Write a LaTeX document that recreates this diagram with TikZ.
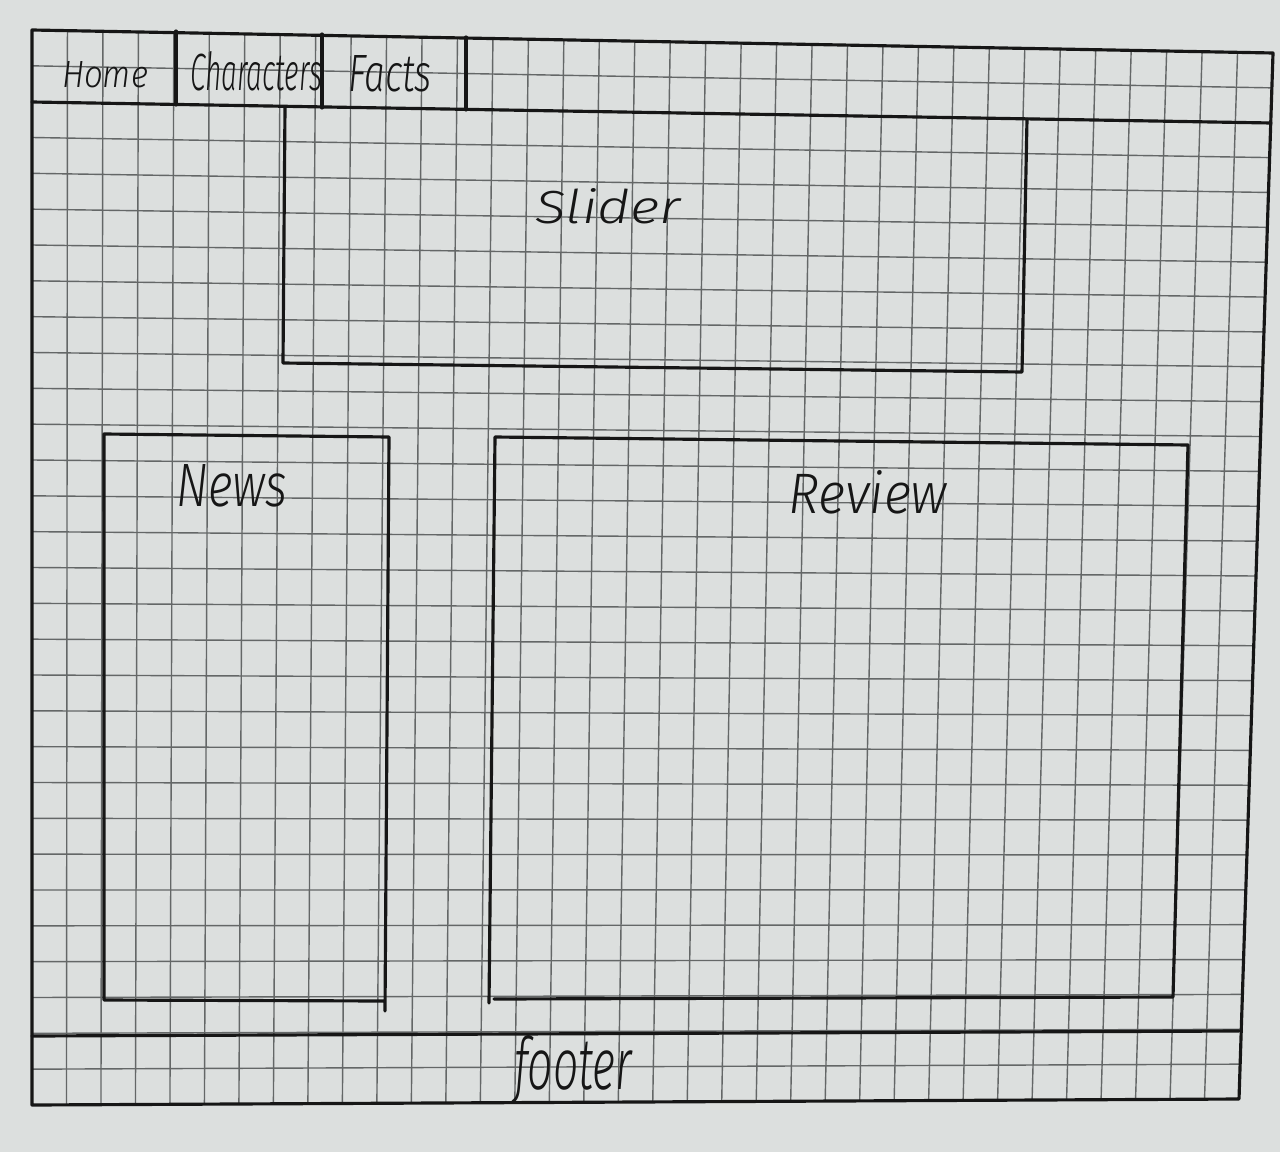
\documentclass[tikz,border=0pt]{standalone}
\usepackage{fontspec}
\setmainfont{Fira Sans}[UprightFont=* Light, ItalicFont=* Light Italic]
\usepackage{graphicx}
\definecolor{paper}{RGB}{220,223,222}
\definecolor{gridc}{RGB}{100,103,103}
\definecolor{inkc}{RGB}{22,22,22}
\newcommand\hw[3]{\resizebox{#1}{#2}{\itshape #3}}
\tikzset{
  ink/.style={draw=inkc, line width=1.8pt, line cap=round, line join=round},
  gridline/.style={draw=gridc, line width=0.8pt},
  lbl/.style={inner sep=0pt, text=inkc}
}
\begin{document}
\begin{tikzpicture}[x=0.02cm, y=-0.02cm]
  % page
  \fill[paper] (0,0) rectangle (1280,1152);
  \useasboundingbox (0,0) rectangle (1280,1152);

  % squared paper, 35 x 30 cells, slightly in perspective
  \foreach \i in {1,...,34} {
    \draw[gridline] ({32+\i*35.457},{30+\i*0.657}) -- ({32+\i*34.486},{1105-\i*0.1714});
  }
  \foreach \j in {1,...,29} {
    \draw[gridline] (32,{30+\j*35.833}) -- ({1273-\j*1.1333},{53+\j*34.867});
  }

  % outer frame
  \coordinate (fTL) at (32,30);
  \coordinate (fTR) at (1273,53);
  \coordinate (fBR) at (1239,1099);
  \coordinate (fBL) at (32,1105);
  \draw[ink] (fTL) -- (fTR) -- (fBR) -- (fBL) -- cycle;

  % navigation bar
  \coordinate (navL) at (32,102);
  \coordinate (navR) at (1271,123);
  \draw[ink] (navL) -- (navR);
  \coordinate (d1a) at (176,31);  \coordinate (d1b) at (176,105);
  \coordinate (d2a) at (322,34);  \coordinate (d2b) at (322,108);
  \coordinate (d3a) at (466,37);  \coordinate (d3b) at (466,110);
  \draw[ink] (d1a) -- (d1b);
  \draw[ink] (d2a) -- (d2b);
  \draw[ink] (d3a) -- (d3b);
  \node[lbl] (home)  at (105,75) {\hw{1.72cm}{0.52cm}{Home}};
  \node[lbl] (chars) at (256,71) {\hw{2.64cm}{0.78cm}{Characters}};
  \node[lbl] (facts) at (390,74) {\hw{1.68cm}{0.72cm}{Facts}};

  % slider
  \coordinate (sTL) at (285,107);
  \coordinate (sBL) at (283,363);
  \coordinate (sBR) at (1022,372);
  \coordinate (sTR) at (1027,119);
  \draw[ink] (sTL) -- (sBL) -- (sBR) -- (sTR);
  \node[lbl] (slider) at (608,206) {\hw{2.9cm}{0.7cm}{Slider}};

  % news column
  \coordinate (nTL) at (104,434);
  \coordinate (nTR) at (389,437);
  \coordinate (nBR) at (385,1011);
  \coordinate (nBL) at (104,1000);
  \coordinate (nBRb) at (385,1001);
  \draw[ink] (nBR) -- (nTR) -- (nTL) -- (nBL) -- (nBRb);
  \node[lbl] (news) at (232,486) {\hw{2.22cm}{0.84cm}{News}};

  % review column
  \coordinate (rTL) at (495,437);
  \coordinate (rTR) at (1188,445);
  \coordinate (rBR) at (1173,997);
  \coordinate (rBL) at (494,999);
  \coordinate (rBLb) at (489,1003);
  \draw[ink] (rBLb) -- (rTL) -- (rTR) -- (rBR) -- (rBL);
  \node[lbl] (review) at (868,492) {\hw{3.18cm}{0.86cm}{Review}};

  % footer
  \coordinate (ftL) at (32,1036);
  \coordinate (ftR) at (1239,1031);
  \draw[ink] (ftL) -- (ftR);
  \node[lbl] (footer) at (573,1070) {\hw{2.36cm}{1.08cm}{footer}};
\end{tikzpicture}
\end{document}
